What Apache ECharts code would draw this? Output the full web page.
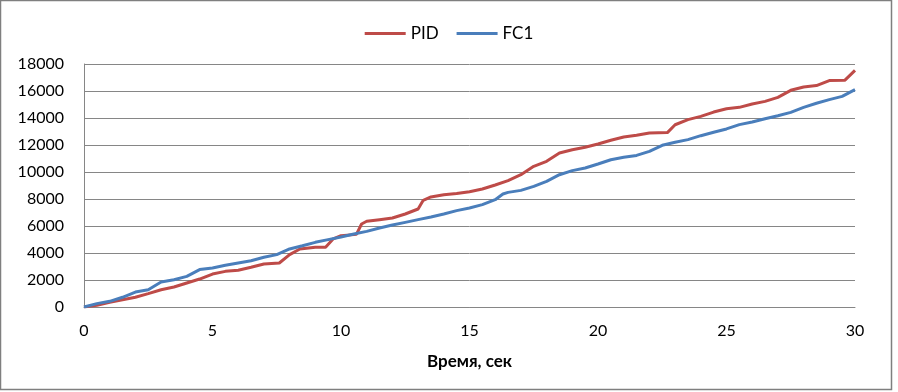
<!DOCTYPE html>
<html>
<head>
<meta charset="utf-8">
<script src="https://cdn.jsdelivr.net/npm/echarts@6/dist/echarts.min.js"></script>
<style>
html,body{margin:0;padding:0;background:#fff;}
#c{width:898px;height:392px;}
</style>
</head>
<body>
<div id="c"></div>
<script>
const seriesNames = ['PID', 'FC1'];
const pidTime = [0,0.5,1,1.5,2,2.5,3,3.5,4,4.5,5,5.5,6,6.5,7,7.6,8,8.4,9,9.4,9.7,10,10.6,10.8,11,11.5,12,12.5,13,13.2,13.5,14,14.5,15,15.5,16,16.5,17,17.5,18,18.5,19,19.5,20,20.5,21,21.5,22,22.7,23,23.5,24,24.5,25,25.5,26,26.5,27,27.5,28,28.5,29,29.6,30];
const pidValues = [0,120,350,540,720,990,1280,1480,1780,2070,2440,2640,2720,2940,3190,3260,3880,4300,4420,4420,5050,5280,5380,6150,6350,6470,6590,6890,7260,7900,8150,8320,8400,8540,8740,9040,9360,9800,10420,10790,11410,11650,11830,12070,12350,12590,12720,12890,12920,13500,13880,14120,14440,14690,14790,15040,15230,15530,16050,16300,16400,16770,16790,17530];
const fc1Time = [0,0.5,1,1.5,2,2.5,3,3.5,4,4.5,5,5.5,6,6.5,7,7.5,8,8.5,9,9.5,10,10.5,11,11.5,12,12.5,13,13.5,14,14.5,15,15.5,16,16.3,16.5,17,17.5,18,18.5,19,19.5,20,20.5,21,21.5,22,22.5,23,23.5,24,24.5,25,25.5,26,26.5,27,27.5,28,28.5,29,29.5,30];
const fc1Values = [0,250,420,720,1110,1280,1850,2020,2270,2770,2890,3090,3260,3430,3680,3880,4300,4540,4790,4990,5190,5410,5600,5850,6070,6270,6470,6670,6890,7140,7330,7580,7950,8370,8490,8640,8940,9310,9800,10100,10300,10590,10910,11090,11230,11530,11980,12200,12400,12690,12940,13190,13510,13700,13950,14170,14420,14790,15090,15360,15600,16100];
const xAxisTitle = 'Время, сек';

const pair = (xs, ys) => xs.map((x, i) => [x, ys[i]]);
const font = 'Lato, "Open Sans", sans-serif';

const chart = echarts.init(document.getElementById('c'), null, {renderer: 'canvas'});
chart.setOption({
  animation: false,
  backgroundColor: '#ffffff',
  graphic: [{
    type: 'rect', silent: true,
    shape: {x: 0.5, y: 0.5, width: 891, height: 389},
    style: {fill: 'none', stroke: '#7f7f7f', lineWidth: 1.5}
  }],
  legend: {
    top: 20, left: 'center',
    itemWidth: 41, itemHeight: 3, itemGap: 18,
    icon: 'rect',
    textStyle: {fontFamily: font, fontSize: 17, color: '#000'},
    data: seriesNames
  },
  grid: {left: 84, right: 43, top: 64, bottom: 85, containLabel: false},
  xAxis: {
    type: 'value', min: 0, max: 30, interval: 5,
    name: xAxisTitle, nameLocation: 'middle', nameGap: 46,
    nameTextStyle: {fontFamily: font, fontSize: 17, fontWeight: 'bold', color: '#000'},
    axisLine: {show: true, lineStyle: {color: '#868686', width: 1}},
    axisTick: {show: false},
    axisLabel: {margin: 16, fontFamily: font, fontSize: 16, color: '#000'},
    splitLine: {show: false}
  },
  yAxis: {
    type: 'value', min: 0, max: 18000, interval: 2000,
    axisLine: {show: true, lineStyle: {color: '#868686', width: 1}},
    axisTick: {show: false},
    axisLabel: {margin: 20, fontFamily: font, fontSize: 16, color: '#000', formatter: v => String(v)},
    splitLine: {show: true, lineStyle: {color: '#868686', width: 1}}
  },
  series: [
    {name: seriesNames[0], type: 'line', data: pair(pidTime, pidValues), symbol: 'none',
     lineStyle: {width: 3, color: '#BE4B48'}, itemStyle: {color: '#BE4B48'}},
    {name: seriesNames[1], type: 'line', data: pair(fc1Time, fc1Values), symbol: 'none',
     lineStyle: {width: 3, color: '#4A7EBB'}, itemStyle: {color: '#4A7EBB'}}
  ]
});
</script>
</body>
</html>
